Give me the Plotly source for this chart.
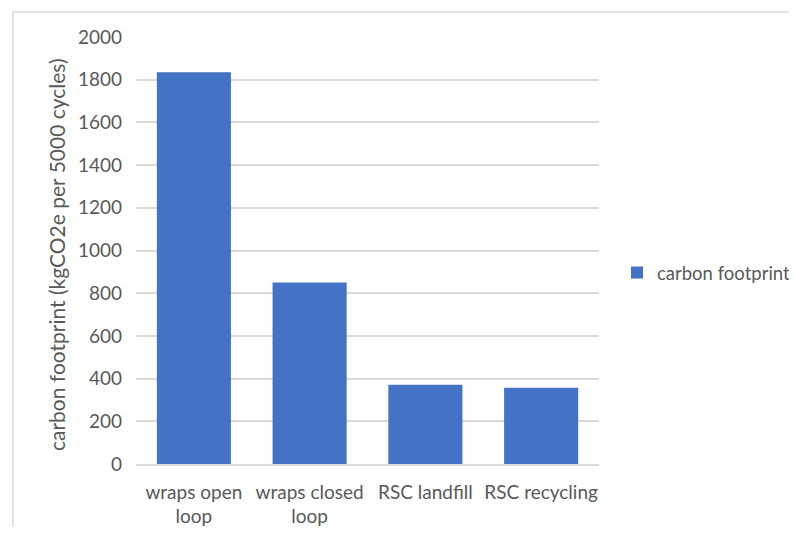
import plotly.graph_objects as go

categories = ["wraps open<br>loop", "wraps closed<br>loop", "RSC landfill", "RSC recycling"]
values = [1835, 850, 371, 357]
series_name = "carbon footprint"
y_title = "carbon footprint (kgCO2e per 5000 cycles)"
y_ticks = [0, 200, 400, 600, 800, 1000, 1200, 1400, 1600, 1800, 2000]

OFF = 8  # page body margin
W, H = 797 - 2 * OFF, 535 - 2 * OFF
# plot area in screen pixels: x 136..599, y 37..464
L, T = 136 - OFF, 37 - OFF
R = W - (599 - OFF)
B = H - (464 - OFF)
pw, ph = W - L - R, H - T - B

def px_x(p):
    return (p - OFF - L) / pw

def px_y(p):
    return (464 - p) / ph

font_color = "#595959"
grid_color = "#d9d9d9"

fig = go.Figure()
fig.add_trace(go.Bar(
    x=categories, y=values, name=series_name,
    marker=dict(color="#4472C4", line=dict(width=0)),
    showlegend=True,
))

fig.update_layout(
    width=W, height=H,
    margin=dict(l=L, r=R, t=T, b=B, autoexpand=False),
    paper_bgcolor="white", plot_bgcolor="white",
    font=dict(family="Lato", size=18, color=font_color),
    bargap=0.36,
    showlegend=True,
    legend=dict(x=px_x(617), y=px_y(273), xanchor="left", yanchor="middle",
                font=dict(size=18.5, color=font_color), bgcolor="rgba(0,0,0,0)"),
    xaxis=dict(showgrid=False, showline=True, linecolor=grid_color, linewidth=1.5,
               automargin=False,
               ticks="", ticklabelstandoff=10, tickfont=dict(size=19, color=font_color)),
    yaxis=dict(range=[0, 2000], tickvals=y_ticks, showgrid=True, gridcolor=grid_color,
               gridwidth=1.5, zeroline=False, showline=False, ticks="", automargin=False,
               ticklabelstandoff=13, tickfont=dict(size=19, color=font_color)),
    annotations=[dict(text=y_title, xref="paper", yref="paper",
                      x=px_x(56), y=px_y(255), xanchor="center", yanchor="middle",
                      textangle=-90, showarrow=False,
                      font=dict(size=21, color=font_color))],
    shapes=[dict(type="rect", xref="paper", yref="paper",
                 x0=px_x(13), x1=px_x(900), y0=px_y(600), y1=px_y(12),
                 line=dict(color=grid_color, width=1.5), fillcolor="rgba(0,0,0,0)", layer="below")],
)

fig.write_html("out.html")
